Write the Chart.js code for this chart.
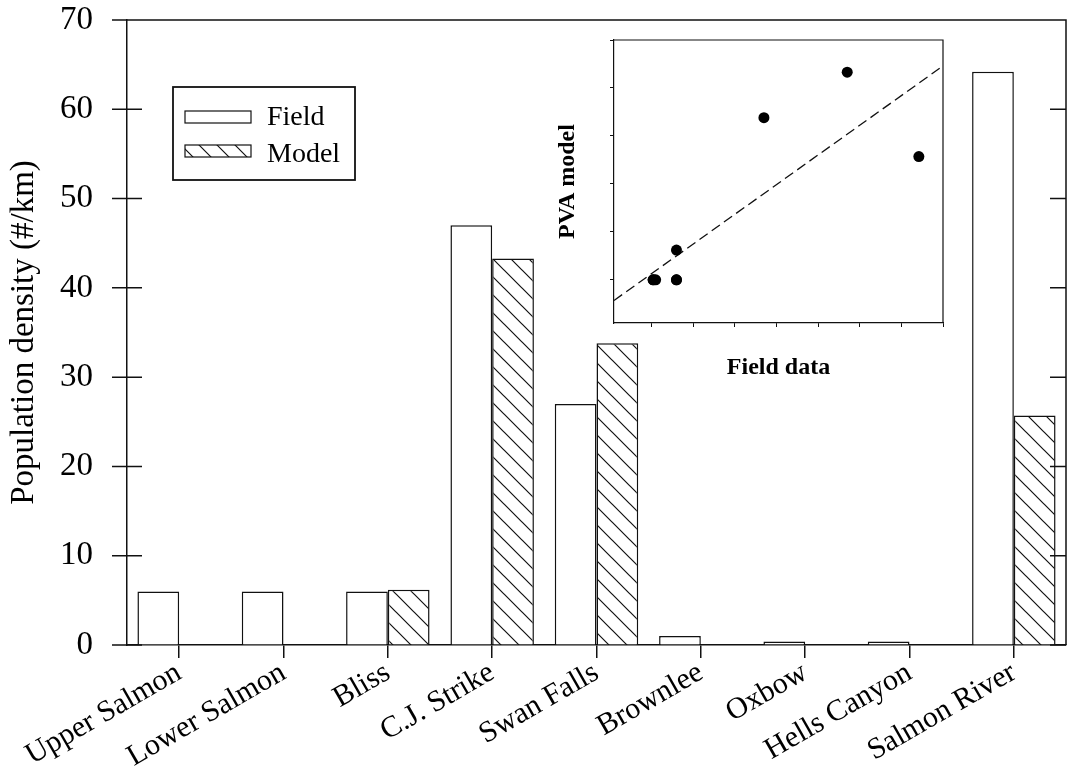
<!DOCTYPE html>
<html>
<head>
<meta charset="utf-8">
<script src="https://cdn.jsdelivr.net/npm/chart.js@4"></script>
<style>
  html, body { margin: 0; padding: 0; background: #fff; }
  #wrap { position: relative; width: 1067px; height: 767px; }
  #main { position: absolute; left: 0; top: 0; }
  #inset { position: absolute; left: 540px; top: 30px; }
</style>
</head>
<body>
<div id="wrap">
  <canvas id="main" width="1067" height="767"></canvas>
  <canvas id="inset" width="410" height="355"></canvas>
</div>
<script>
// Data
const sites = ['Upper Salmon', 'Lower Salmon', 'Bliss', 'C.J. Strike', 'Swan Falls',
  'Brownlee', 'Oxbow', 'Hells Canyon', 'Salmon River'];
const fieldDensity = [6, 6, 6, 47, 27, 1.0, 0.4, 0.4, 64.2];
const modelDensity = [0, 0, 6.2, 43.3, 33.8, 0, 0, 0, 25.7];
const densityTicks = [0, 10, 20, 30, 40, 50, 60, 70];

// Inset: field vs model, with the dashed fit line
const insetFieldTicks = [0, 10, 20, 30, 40, 50, 60, 70];
const insetModelTicks = [0, 10, 20, 30, 40, 50];
const fitLineX = [-9, 69.2];
const fitLineY = [-4.3, 44.1];

const INK = '#111';
Chart.defaults.font.family = '"Liberation Serif", "Times New Roman", serif';
Chart.defaults.color = '#000';

const mainCanvas = document.getElementById('main');

// diagonal hatch for the model bars
function makeHatch(ctx) {
  const c = document.createElement('canvas');
  c.width = 18; c.height = 18;
  const g = c.getContext('2d');
  g.fillStyle = '#fff';
  g.fillRect(0, 0, 18, 18);
  g.strokeStyle = INK;
  g.lineWidth = 1.2;
  g.beginPath();
  g.moveTo(-2, -2); g.lineTo(20, 20);
  g.moveTo(-2, 16); g.lineTo(2, 20);
  g.moveTo(16, -2); g.lineTo(20, 2);
  g.stroke();
  return ctx.createPattern(c, 'repeat');
}
const hatch = makeHatch(mainCanvas.getContext('2d'));

// top/right frame and the y tick marks (crossing on the left, inward on the right)
const mainFrame = {
  id: 'mainFrame',
  afterDatasetsDraw(chart) {
    const { ctx, chartArea: a, scales: { y } } = chart;
    ctx.save();
    ctx.strokeStyle = INK;
    ctx.lineWidth = 1.5;
    ctx.beginPath();
    ctx.moveTo(a.left, a.top);
    ctx.lineTo(a.right, a.top);
    ctx.lineTo(a.right, a.bottom);
    y.ticks.forEach(t => {
      const py = y.getPixelForValue(t.value);
      ctx.moveTo(a.left - 15, py); ctx.lineTo(a.left + 15, py);
      ctx.moveTo(a.right - 16, py); ctx.lineTo(a.right, py);
    });
    ctx.stroke();
    ctx.restore();
  }
};

// boxed legend inside the plot
const boxLegend = {
  id: 'boxLegend',
  afterDraw(chart) {
    const ctx = chart.ctx;
    ctx.save();
    ctx.strokeStyle = INK;
    ctx.lineWidth = 1.8;
    ctx.strokeRect(173, 87, 182, 93);
    ctx.font = '28px "Liberation Serif", serif';
    ctx.textBaseline = 'alphabetic';
    chart.data.datasets.forEach((ds, i) => {
      const top = 111 + i * 34;
      ctx.fillStyle = ds.backgroundColor;
      ctx.fillRect(185, top, 66, 12);
      ctx.lineWidth = 1.2;
      ctx.strokeRect(185, top, 66, 12);
      ctx.fillStyle = '#000';
      ctx.fillText(ds.label, 267, 125 + i * 37);
    });
    ctx.restore();
  }
};

new Chart(mainCanvas, {
  type: 'bar',
  data: {
    labels: sites,
    datasets: [
      { label: 'Field', data: fieldDensity, backgroundColor: '#fff', borderColor: INK, borderWidth: 1.5 },
      { label: 'Model', data: modelDensity, backgroundColor: hatch, borderColor: INK, borderWidth: 1.5 },
    ],
  },
  options: {
    responsive: false,
    animation: false,
    layout: { padding: { top: 20, right: 1, left: 0, bottom: 0 } },
    datasets: { bar: { categoryPercentage: 0.8, barPercentage: 1.0 } },
    plugins: { legend: { display: false }, tooltip: { enabled: false } },
    scales: {
      x: {
        afterFit: s => { s.height = 122; },
        grid: { offset: false, drawOnChartArea: false, drawTicks: true, tickLength: 13, color: INK, lineWidth: 1.5 },
        border: { display: true, color: INK, width: 1.5 },
        ticks: { autoSkip: false, maxRotation: 30, minRotation: 30, padding: -3, color: '#000', font: { size: 30 } },
      },
      y: {
        min: 0,
        max: 70,
        afterBuildTicks: s => { s.ticks = densityTicks.map(v => ({ value: v })); },
        afterFit: s => { s.width = 127; },
        // tick marks are drawn by mainFrame; the invisible tick length just spaces the labels
        grid: { drawOnChartArea: false, drawTicks: true, tickLength: 34, tickColor: 'rgba(0,0,0,0)' },
        border: { display: true, color: INK, width: 1.5 },
        ticks: { padding: 0, color: '#000', font: { size: 33 } },
        title: {
          display: true, text: 'Population density (#/km)', color: '#000',
          font: { size: 33 }, padding: { top: 5, bottom: 0 },
        },
      },
    },
  },
  plugins: [mainFrame, boxLegend],
});

// inset frame: top and right sides
const insetFrame = {
  id: 'insetFrame',
  afterDraw(chart) {
    const { ctx, chartArea: a } = chart;
    ctx.save();
    ctx.strokeStyle = INK;
    ctx.lineWidth = 1.2;
    ctx.beginPath();
    ctx.moveTo(a.left, a.top);
    ctx.lineTo(a.right, a.top);
    ctx.lineTo(a.right, a.bottom);
    ctx.stroke();
    ctx.restore();
  }
};

const insetLabelFont = { size: 24, weight: 'bold' };

new Chart(document.getElementById('inset'), {
  type: 'scatter',
  data: {
    datasets: [
      {
        data: fieldDensity.map((v, i) => ({ x: v, y: modelDensity[i] })),
        pointRadius: 5.5, backgroundColor: '#000', borderWidth: 0,
      },
      {
        type: 'line',
        data: fitLineX.map((v, i) => ({ x: v, y: fitLineY[i] })),
        showLine: true, fill: false, pointRadius: 0,
        borderColor: INK, borderWidth: 1.3, borderDash: [10, 5],
      },
    ],
  },
  options: {
    responsive: false,
    animation: false,
    layout: { padding: { top: 10, right: 7, left: 0, bottom: 0 } },
    plugins: { legend: { display: false }, tooltip: { enabled: false } },
    scales: {
      x: {
        type: 'linear', min: -9, max: 70,
        afterBuildTicks: s => { s.ticks = insetFieldTicks.map(v => ({ value: v })); },
        afterFit: s => { s.height = 62; },
        grid: { drawOnChartArea: false, drawTicks: true, tickLength: 4, color: INK, lineWidth: 1 },
        border: { display: true, color: INK, width: 1.2 },
        ticks: { display: false },
        title: { display: true, text: 'Field data', color: '#000', font: insetLabelFont, padding: { top: 0, bottom: 3 } },
      },
      y: {
        type: 'linear', min: -9, max: 50,
        afterBuildTicks: s => { s.ticks = insetModelTicks.map(v => ({ value: v })); },
        afterFit: s => { s.width = 74; },
        grid: { drawOnChartArea: false, drawTicks: true, tickLength: 4, color: INK, lineWidth: 1 },
        border: { display: true, color: INK, width: 1.2 },
        ticks: { display: false },
        title: { display: true, text: 'PVA model', color: '#000', font: insetLabelFont, padding: { top: 13, bottom: 0 } },
      },
    },
  },
  plugins: [insetFrame],
});
</script>
</body>
</html>
